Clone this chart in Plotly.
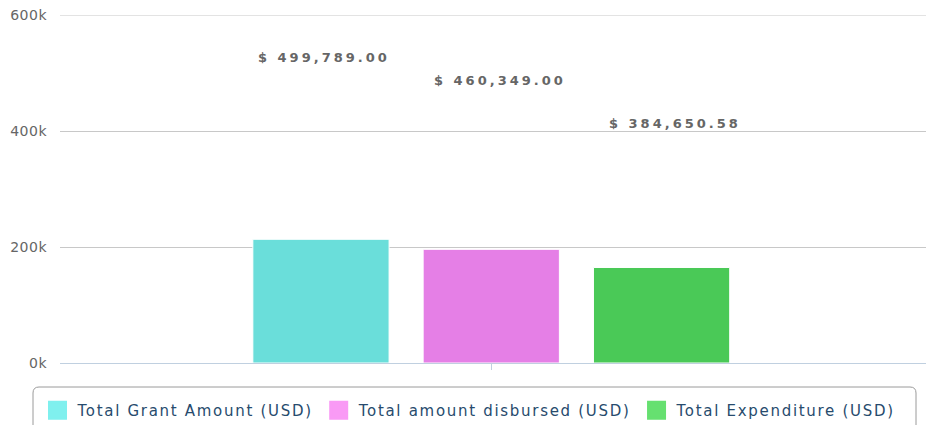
import plotly.graph_objects as go

# ---- data ----
series_names = ["Total Grant Amount (USD)", "Total amount disbursed (USD)", "Total Expenditure (USD)"]
label_values = [499789.00, 460349.00, 384650.58]      # value labels shown above bars
bar_heights = [213300, 196000, 164700]                # bar heights as drawn in the picture
bar_colors = ["#6ADEDA", "#E57FE6", "#4AC957"]
legend_colors = ["#7FF0EE", "#F99AF5", "#66E070"]
ytick_vals = [0, 200000, 400000, 600000]
ytick_text = ["0k", "200k", "400k", "600k"]

BARGAP = 0.41
BARGROUPGAP = 0.2
FONT = "DejaVu Sans"
W, H = 926, 425
ML, MR, MT, MB = 60, 0, 15, 62


def spaced(text, px):
    return f'<span style="letter-spacing:{px}px">{text}</span>'


fig = go.Figure()
for name, h, c in zip(series_names, bar_heights, bar_colors):
    fig.add_trace(go.Bar(
        x=[0], y=[h], name=name, showlegend=False,
        marker=dict(color=c, line=dict(color="white", width=1)),
        hoverinfo="skip",
    ))
# legend swatches
for name, c in zip(series_names, legend_colors):
    fig.add_trace(go.Scatter(
        x=[None], y=[None], mode="markers", name=spaced(name, 1.7),
        marker=dict(symbol="square", size=16, color=c, line=dict(color=c, width=3)),
    ))

n = len(series_names)
slot = (1 - BARGAP) / n
xshifts = [3, 9, 13]
for i, v in enumerate(label_values):
    fig.add_annotation(
        x=(i - (n - 1) / 2) * slot, y=v, xref="x", yref="y",
        text=spaced(f"$ {v:,.2f}", 3), showarrow=False,
        xanchor="center", yanchor="middle", yshift=16, xshift=xshifts[i],
        font=dict(family=FONT, size=13, color="#666666", weight="bold"),
    )

# top grid line (plotly clips grid lines lying on the plot edge)
fig.add_shape(type="line", xref="paper", yref="y", x0=0, x1=1,
              y0=ytick_vals[-1], y1=ytick_vals[-1],
              line=dict(color="#C8C8C8", width=1), layer="below")

# rounded legend frame (pixel box converted to paper coordinates)
pw, ph = W - ML - MR, H - MT - MB
def px_x(p): return (p - ML) / pw
def px_y(p): return (H - MB - p) / ph
bx0, bx1, by0, by1, r = 33, 916, 387, 445, 6
rx, ry = r / pw, r / ph
X0, X1, Y0, Y1 = px_x(bx0), px_x(bx1), px_y(by0), px_y(by1)
path = (f"M{X0+rx},{Y0} L{X1-rx},{Y0} Q{X1},{Y0} {X1},{Y0-ry} L{X1},{Y1} "
        f"L{X0},{Y1} L{X0},{Y0-ry} Q{X0},{Y0} {X0+rx},{Y0} Z")
fig.add_shape(type="path", xref="paper", yref="paper", path=path,
              line=dict(color="#9A9A9A", width=1), fillcolor="white", layer="below")

fig.update_layout(
    width=W, height=H,
    margin=dict(l=ML, r=MR, t=MT, b=MB, autoexpand=False),
    paper_bgcolor="white", plot_bgcolor="white",
    barmode="group", bargap=BARGAP, bargroupgap=BARGROUPGAP,
    font=dict(family=FONT),
    showlegend=True,
    legend=dict(
        orientation="h", xref="container", yref="container",
        x=0.507, xanchor="center", y=1 - 394 / H, yanchor="top",
        borderwidth=0, bgcolor="rgba(0,0,0,0)",
        font=dict(family=FONT, size=15, color="#274B6D"),
        itemsizing="trace", itemwidth=30,
    ),
    xaxis=dict(
        range=[-0.498, 0.502], showgrid=False, zeroline=False,
        showline=True, linecolor="#C0D0E0", linewidth=1,
        tickvals=[0], ticktext=[""], ticks="outside", ticklen=6, tickcolor="#C0D0E0",
        fixedrange=True, automargin=False,
    ),
    yaxis=dict(
        range=[0, 600000], tickvals=ytick_vals,
        ticktext=[spaced(t, 0.5) for t in ytick_text],
        showgrid=True, gridcolor="#C8C8C8", gridwidth=1, zeroline=False,
        tickfont=dict(family=FONT, size=14, color="#666666"),
        ticks="", ticklabelstandoff=12, fixedrange=True, automargin=False,
    ),
)

page_fix = ("document.body.style.margin='0';"
            "document.body.style.overflow='hidden';")
fig.write_html("out.html", post_script=page_fix, config={"displayModeBar": False})
